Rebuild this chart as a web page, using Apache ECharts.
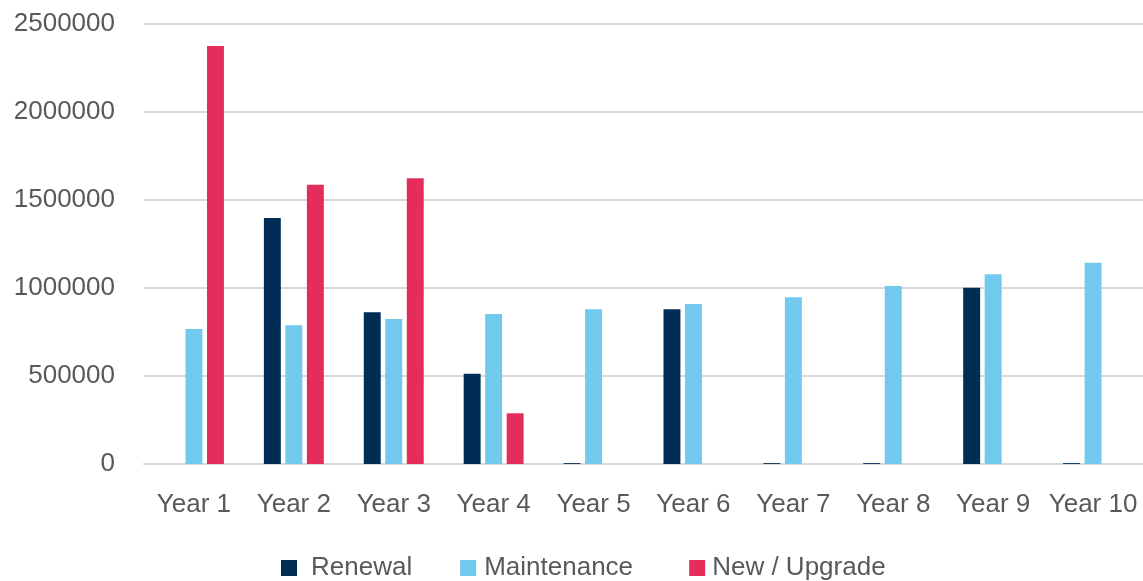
<!DOCTYPE html>
<html>
<head>
<meta charset="utf-8">
<script src="https://cdn.jsdelivr.net/npm/echarts@6/dist/echarts.min.js"></script>
<style>
  html, body { margin: 0; padding: 0; background: #fff; }
  #chart { width: 1143px; height: 581px; }
</style>
</head>
<body>
<div id="chart"></div>
<script>
"use strict";

const years = ["Year 1", "Year 2", "Year 3", "Year 4", "Year 5", "Year 6", "Year 7", "Year 8", "Year 9", "Year 10"];
const renewal = [0, 1398000, 862000, 513000, 5000, 879000, 5000, 5000, 1002000, 5000];
const maintenance = [767000, 788000, 824000, 852000, 879000, 909000, 947000, 1011000, 1078000, 1144000];
const newUpgrade = [2375000, 1587000, 1623000, 288000, 0, 0, 0, 0, 0, 0];

const textColor = "#595959";
const gridColor = "#d9d9d9";
const fontFamily = "'Liberation Sans', Arial, sans-serif";

const myChart = echarts.init(document.getElementById("chart"));

// bar series share the same look, only name / data / colour differ
function barSeries(name, data, color) {
    return {
        name: name,
        type: "bar",
        data: data,
        barGap: "27%",
        barCategoryGap: "40%",
        itemStyle: { color: color },
        emphasis: { disabled: true }
    };
}

const option = {
    animation: false,
    textStyle: { fontFamily: fontFamily },
    grid: { left: 144, right: 0, top: 24, bottom: 117, containLabel: false, outerBoundsMode: "none" },
    legend: {
        left: 281,
        top: 555,
        padding: 0,
        icon: "rect",
        itemWidth: 16,
        itemHeight: 16,
        itemGap: 48,
        textStyle: { color: textColor, fontSize: 26, lineHeight: 26, fontFamily: fontFamily },
        // fixed text boxes so the items sit where the reference has them
        data: [
            { name: "Renewal", textStyle: { width: 101, padding: [0, 0, 0, 9] } },
            { name: "Maintenance", textStyle: { width: 157, padding: [0, 0, 0, 3] } },
            { name: "New / Upgrade", textStyle: { width: 181, padding: [0, 0, 0, 2] } }
        ]
    },
    xAxis: {
        type: "category",
        data: years,
        axisLine: { lineStyle: { color: gridColor, width: 2 } },
        axisTick: { show: false },
        axisLabel: { color: textColor, fontSize: 26, margin: 28, interval: 0 }
    },
    yAxis: {
        type: "value",
        min: 0,
        max: 2500000,
        interval: 500000,
        axisLine: { show: false },
        axisTick: { show: false },
        splitLine: { lineStyle: { color: gridColor, width: 2 } },
        axisLabel: {
            color: textColor,
            fontSize: 26,
            margin: 29,
            formatter: (v) => String(v)
        }
    },
    series: [
        barSeries("Renewal", renewal, "#002d56"),
        barSeries("Maintenance", maintenance, "#72c9ee"),
        barSeries("New / Upgrade", newUpgrade, "#e42d5a")
    ]
};

myChart.setOption(option);
</script>
</body>
</html>
